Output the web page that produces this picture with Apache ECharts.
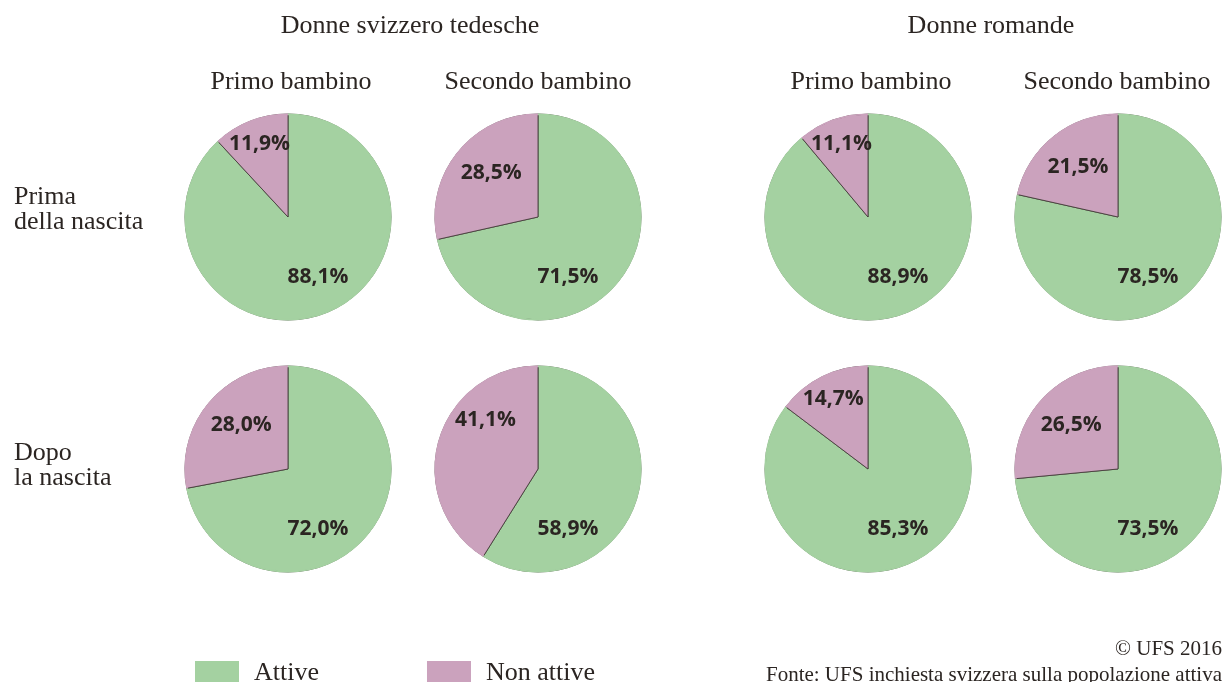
<!DOCTYPE html>
<html lang="it">
<head>
<meta charset="UTF-8">
<title>Donne attive prima e dopo la nascita</title>
<script src="https://cdn.jsdelivr.net/npm/echarts@6/dist/echarts.min.js"></script>
<style>
  html, body { margin: 0; padding: 0; background: #fff; }
  #chart { width: 1223px; height: 682px; }
</style>
</head>
<body>
<div id="chart"></div>
<script>
// categories
const statusNames = ['Attive', 'Non attive'];
const groupTitles = ['Donne svizzero tedesche', 'Donne romande'];
const childTitles = ['Primo bambino', 'Secondo bambino', 'Primo bambino', 'Secondo bambino'];
const rowTitles = ['Prima\ndella nascita', 'Dopo\nla nascita'];

// share of women (%) per column: [Attive, Non attive]
const beforeBirth = [[88.1, 11.9], [71.5, 28.5], [88.9, 11.1], [78.5, 21.5]];
const afterBirth  = [[72.0, 28.0], [58.9, 41.1], [85.3, 14.7], [73.5, 26.5]];

const colors = ['#a4d1a1', '#cba2bd'];
const serif = '"Liberation Serif", "DejaVu Serif", serif';
const ink = '#2b2522';

const colX = [288, 538, 868, 1118];
const rowY = [217, 469];
const R = 103;

const fmt = v => v.toFixed(1).replace('.', ',') + '%';

const series = [];
[beforeBirth, afterBirth].forEach((rowData, r) => {
  rowData.forEach((vals, c) => {
    const cx = colX[c], cy = rowY[r];
    const data = statusNames.map((name, i) => ({ name, value: vals[i] }));
    // main pie with dark separators
    series.push({
      type: 'pie',
      center: [cx, cy],
      radius: [0, R],
      startAngle: 90,
      clockwise: true,
      silent: true,
      animation: false,
      emphasis: { disabled: true },
      itemStyle: { borderColor: '#3b3330', borderWidth: 0.8 },
      label: {
        show: true,
        position: 'inside',
        formatter: p => fmt(p.value),
        fontFamily: '"Open Sans", "DejaVu Sans", sans-serif',
        fontWeight: 'bold',
        fontSize: 21,
        color: ink
      },
      labelLine: { show: false },
      labelLayout: p => {
        if (p.dataIndex === 0) return { x: cx + 30, y: cy + 60, align: 'center', verticalAlign: 'middle' };
        // non attive label sits in the upper left part of its slice
        const v = vals[1];
        const mid = 360 - v * 1.8;
        const a = Math.max(mid, 313) * Math.PI / 180;
        const d = v < 16 ? 78 : (v > 35 ? 72 : 64);
        return { x: cx + d * Math.sin(a), y: cy - d * Math.cos(a), align: 'center', verticalAlign: 'middle' };
      },
      data
    });
    // thin ring hiding the dark outline on the outer arc
    series.push({
      type: 'pie',
      center: [cx, cy],
      radius: [R - 1.2, R + 0.6],
      startAngle: 90,
      clockwise: true,
      silent: true,
      animation: false,
      emphasis: { disabled: true },
      itemStyle: { borderWidth: 0 },
      label: { show: false },
      labelLine: { show: false },
      data
    });
  });
});

const txt = (text, x, y, size, align) => ({
  type: 'text', x, y, silent: true,
  style: { text, font: size + 'px ' + serif, fill: ink, textAlign: align || 'center', textVerticalAlign: 'middle', lineHeight: 25 }
});

const graphic = [
  txt(groupTitles[0], 410, 26, 26),
  txt(groupTitles[1], 991, 26, 26),
  txt(childTitles[0], 291, 82, 26),
  txt(childTitles[1], 538, 82, 26),
  txt(childTitles[2], 871, 82, 26),
  txt(childTitles[3], 1117, 82, 26),
  txt(rowTitles[0], 14, 210, 26, 'left'),
  txt(rowTitles[1], 14, 466, 26, 'left'),
  txt('© UFS 2016', 1222, 649, 21, 'right'),
  txt('Fonte: UFS inchiesta svizzera sulla popolazione attiva', 1222, 675, 21, 'right')
];

const chart = echarts.init(document.getElementById('chart'), null, { renderer: 'canvas' });
chart.setOption({
  backgroundColor: '#fff',
  color: colors,
  animation: false,
  legend: {
    data: statusNames,
    left: 190,
    top: 655,
    icon: 'rect',
    itemWidth: 44,
    itemHeight: 24,
    itemGap: 108,
    selectedMode: false,
    itemStyle: { borderWidth: 0 },
    textStyle: { fontFamily: serif, fontSize: 26, color: ink, padding: [0, 0, 0, 10] }
  },
  graphic,
  series
});
</script>
</body>
</html>
